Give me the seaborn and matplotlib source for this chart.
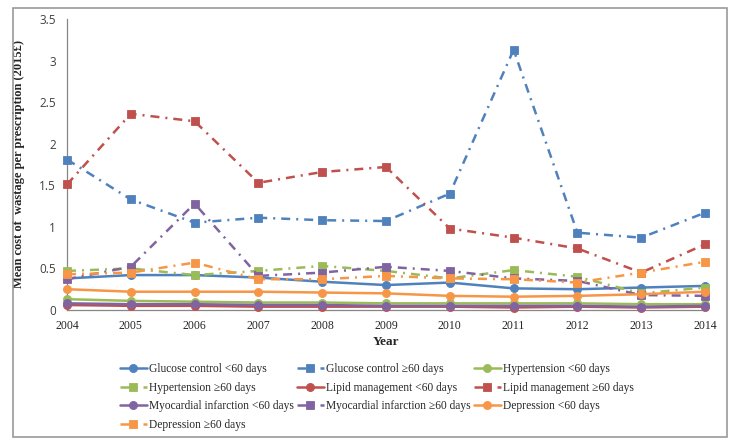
import matplotlib
matplotlib.use("Agg")
import matplotlib.pyplot as plt
from matplotlib.patches import Rectangle
import seaborn as sns

years = [2004, 2005, 2006, 2007, 2008, 2009, 2010, 2011, 2012, 2013, 2014]

glucose_lt60 = [0.38, 0.42, 0.42, 0.39, 0.34, 0.30, 0.33, 0.26, 0.25, 0.27, 0.29]
glucose_ge60 = [1.81, 1.33, 1.05, 1.11, 1.08, 1.07, 1.40, 3.13, 0.93, 0.87, 1.17]
hyper_lt60 = [0.13, 0.11, 0.10, 0.09, 0.09, 0.08, 0.08, 0.08, 0.08, 0.07, 0.07]
hyper_ge60 = [0.47, 0.50, 0.42, 0.47, 0.53, 0.47, 0.38, 0.48, 0.40, 0.20, 0.27]
lipid_lt60 = [0.06, 0.05, 0.05, 0.04, 0.04, 0.04, 0.04, 0.03, 0.04, 0.03, 0.04]
lipid_ge60 = [1.51, 2.36, 2.27, 1.53, 1.66, 1.72, 0.98, 0.87, 0.74, 0.45, 0.79]
mi_lt60 = [0.08, 0.07, 0.07, 0.06, 0.06, 0.05, 0.05, 0.05, 0.05, 0.04, 0.05]
mi_ge60 = [0.37, 0.52, 1.28, 0.41, 0.45, 0.52, 0.47, 0.38, 0.35, 0.18, 0.17]
dep_lt60 = [0.25, 0.22, 0.22, 0.22, 0.21, 0.20, 0.17, 0.16, 0.17, 0.19, 0.22]
dep_ge60 = [0.43, 0.45, 0.57, 0.37, 0.37, 0.41, 0.38, 0.37, 0.33, 0.45, 0.58]

labels = [
    "Glucose control <60 days", "Glucose control \u226560 days",
    "Hypertension <60 days", "Hypertension \u226560 days",
    "Lipid management <60 days", "Lipid management \u226560 days",
    "Myocardial infarction <60 days", "Myocardial infarction \u226560 days",
    "Depression <60 days", "Depression \u226560 days",
]
series = [glucose_lt60, glucose_ge60, hyper_lt60, hyper_ge60, lipid_lt60,
          lipid_ge60, mi_lt60, mi_ge60, dep_lt60, dep_ge60]
y_ticks = [0, 0.5, 1, 1.5, 2, 2.5, 3, 3.5]
y_ticklabels = ["0", "0.5", "1", "1.5", "2", "2.5", "3", "3.5"]

# glucose, hypertension, lipid, MI, depression
palette = ["#4F81BD", "#9BBB59", "#C0504D", "#8064A2", "#F79646"]

sns.set_style("white")
serif = ["Liberation Serif", "DejaVu Serif"]
plt.rcParams["font.family"] = serif

fig = plt.figure(figsize=(7.4, 4.45), dpi=100)
ax = fig.add_axes([67 / 740, 1 - 310 / 445, (705 - 67) / 740, (310 - 19) / 445])

for i, (lab, vals) in enumerate(zip(labels, series)):
    col = palette[i // 2]
    ge = i % 2 == 1
    sns.lineplot(
        x=years, y=vals, ax=ax, color=col, label=lab, errorbar=None,
        marker="s" if ge else "o",
        markersize=5.4 if ge else 5.8,
        markeredgecolor=col, markerfacecolor=col, markeredgewidth=0.6,
        linewidth=1.8,
        linestyle=(0, (3.6, 2.4, 0.8, 2.4)) if ge else "-",
        clip_on=False, zorder=3 + i,
    )

ax.set_xlim(2004, 2014)
ax.set_ylim(0, 3.5)
ax.set_xticks(years)
ax.set_xticklabels([str(y) for y in years], fontsize=8.5, family=serif)
ax.set_yticks(y_ticks)
ax.set_yticklabels(y_ticklabels, fontsize=8.5, family=["Open Sans", "DejaVu Sans"], color="#404040")
ax.tick_params(axis="both", direction="out", length=3, width=0.8, color="#868686")
ax.tick_params(axis="x", pad=4)
ax.tick_params(axis="y", pad=5)
for s in ["top", "right"]:
    ax.spines[s].set_visible(False)
for s in ["left", "bottom"]:
    ax.spines[s].set_color("#868686")
    ax.spines[s].set_linewidth(0.9)
ax.grid(False)

ax.set_xlabel("Year", fontsize=9.5, fontweight="bold", family=serif, labelpad=3)
ax.set_ylabel("Mean cost of  wastage per prescription (2015\u00a3)", fontsize=9,
              fontweight="bold", family=serif, labelpad=10)

handles, labs = ax.get_legend_handles_labels()
order = [0, 3, 6, 9, 1, 4, 7, 2, 5, 8]
leg = ax.legend([handles[k] for k in order], [labs[k] for k in order],
                ncol=3, loc="upper left", bbox_to_anchor=(120 / 740, 1 - 363 / 445),
                bbox_transform=fig.transFigure, frameon=False,
                prop={"family": serif, "size": 8.3}, handlelength=2.3,
                handletextpad=0.2, columnspacing=0.3, labelspacing=0.58,
                borderpad=0, borderaxespad=0)

fig.patches.append(Rectangle((13 / 740, 8 / 445), (727 - 13) / 740, (437 - 8) / 445,
                             transform=fig.transFigure, fill=False,
                             edgecolor="#9a9a9a", linewidth=1.2, zorder=0))

fig.savefig("out.png", dpi=100)
